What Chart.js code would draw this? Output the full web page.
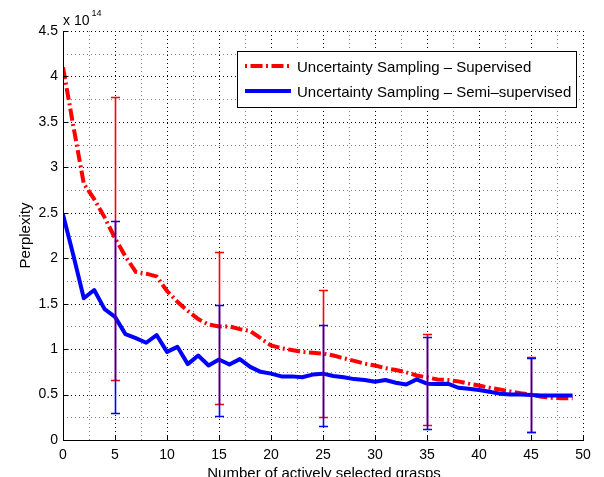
<!DOCTYPE html>
<html><head><meta charset="utf-8">
<script src="https://cdn.jsdelivr.net/npm/chart.js@4"></script>
<style>html,body{margin:0;padding:0;background:#fff;}canvas{display:block;}</style>
</head><body>
<canvas id="c" width="604" height="477"></canvas>
<script>
// ---- data (perplexity in units of 1e14) ----
const grasps = [0,1,2,3,4,5,6,7,8,9,10,11,12,13,14,15,16,17,18,19,20,21,22,23,24,25,26,27,28,29,30,31,32,33,34,35,36,37,38,39,40,41,42,43,44,45,46,47,48,49];
const supervised = [4.10,3.45,2.82,2.65,2.45,2.22,2.02,1.85,1.83,1.80,1.64,1.52,1.42,1.33,1.27,1.25,1.25,1.22,1.20,1.12,1.04,1.01,0.99,0.97,0.96,0.95,0.93,0.90,0.87,0.84,0.82,0.79,0.77,0.745,0.71,0.69,0.665,0.66,0.645,0.62,0.60,0.575,0.555,0.535,0.515,0.50,0.475,0.465,0.46,0.46];
const semiSupervised = [2.48,2.03,1.56,1.65,1.44,1.355,1.165,1.12,1.07,1.155,0.97,1.025,0.835,0.93,0.82,0.885,0.83,0.89,0.805,0.75,0.73,0.70,0.70,0.69,0.72,0.73,0.705,0.69,0.67,0.66,0.64,0.66,0.63,0.61,0.667,0.62,0.615,0.62,0.575,0.565,0.55,0.53,0.51,0.50,0.50,0.495,0.49,0.49,0.49,0.49];
const errGrasps = [5,15,25,35,45];
const supHigh = [3.77,2.07,1.65,1.17,0.91];
const supLow = [0.66,0.40,0.25,0.17,0.09];
const semiHigh = [2.41,1.49,1.27,1.13,0.90];
const semiLow = [0.30,0.267,0.157,0.12,0.085];
const xTicks = [0,5,10,15,20,25,30,35,40,45,50];
const xTickLabels = ['0','5','10','15','20','25','30','35','40','45','50'];
const yTicks = [0,0.5,1,1.5,2,2.5,3,3.5,4,4.5];
const yTickLabels = ['0','0.5','1','1.5','2','2.5','3','3.5','4','4.5'];
const exponent = '14';
const seriesNames = ['Uncertainty Sampling \u2013 Supervised','Uncertainty Sampling \u2013 Semi\u2013supervised'];
const xTitle = 'Number of actively selected grasps';
const yTitle = 'Perplexity';

const FONT = '"Liberation Sans", Arial, Helvetica, sans-serif';
const RED = '#ff0000', BLUE = '#0000ff';
const DASHDOT = [12,3.5,2,3.5];
Chart.defaults.font.family = FONT;

const crisp = v => Math.round(v) + 0.5;

const matlabPlugin = {
  id: 'matlab',
  beforeDatasetsDraw(chart) {
    const {ctx, chartArea: a, scales: {x, y}} = chart;
    ctx.save();
    ctx.lineWidth = 1;
    // minor grid
    ctx.strokeStyle = '#808080';
    ctx.setLineDash([1,3]);
    for (let i = 0; i < xTicks.length - 1; i++) {
      const px = crisp(x.getPixelForValue((xTicks[i] + xTicks[i+1]) / 2));
      ctx.beginPath(); ctx.moveTo(px, a.bottom); ctx.lineTo(px, a.top); ctx.stroke();
    }
    for (let i = 0; i < yTicks.length - 1; i++) {
      const py = crisp(y.getPixelForValue((yTicks[i] + yTicks[i+1]) / 2));
      ctx.beginPath(); ctx.moveTo(a.left, py); ctx.lineTo(a.right, py); ctx.stroke();
    }
    // major grid
    ctx.strokeStyle = '#000';
    xTicks.forEach(v => {
      const px = crisp(x.getPixelForValue(v));
      ctx.beginPath(); ctx.moveTo(px, a.bottom); ctx.lineTo(px, a.top); ctx.stroke();
    });
    yTicks.forEach(v => {
      const py = crisp(y.getPixelForValue(v));
      ctx.beginPath(); ctx.moveTo(a.left, py); ctx.lineTo(a.right, py); ctx.stroke();
    });
    ctx.restore();
  },
  afterDatasetsDraw(chart) {
    const {ctx, chartArea: a, scales: {x, y}} = chart;
    ctx.save();
    ctx.setLineDash([]);
    const bar = (xv, lo, hi, color) => {
      const px = Math.round(x.getPixelForValue(xv)) + 0.5;
      const pl = crisp(y.getPixelForValue(lo));
      const ph = crisp(y.getPixelForValue(hi));
      ctx.strokeStyle = color;
      ctx.lineWidth = 1.6;
      ctx.beginPath();
      ctx.moveTo(px, pl); ctx.lineTo(px, ph);
      ctx.stroke();
      ctx.lineWidth = 1.3;
      ctx.beginPath();
      ctx.moveTo(px - 4.5, pl); ctx.lineTo(px + 4.5, pl);
      ctx.moveTo(px - 4.5, ph); ctx.lineTo(px + 4.5, ph);
      ctx.stroke();
    };
    errGrasps.forEach((g, i) => bar(g, supLow[i], supHigh[i], RED));
    errGrasps.forEach((g, i) => bar(g, semiLow[i], semiHigh[i], BLUE));
    // axes
    ctx.lineWidth = 1;
    ctx.strokeStyle = '#000';
    const L = crisp(a.left), B = crisp(a.bottom);
    ctx.beginPath();
    ctx.moveTo(L, a.top); ctx.lineTo(L, B); ctx.lineTo(a.right + 1, B);
    ctx.stroke();
    // inward ticks
    ctx.beginPath();
    xTicks.forEach(v => { const px = crisp(x.getPixelForValue(v)); ctx.moveTo(px, B); ctx.lineTo(px, B - 5); });
    yTicks.forEach(v => { const py = crisp(y.getPixelForValue(v)); ctx.moveTo(L, py); ctx.lineTo(L + 5, py); });
    ctx.stroke();
    ctx.restore();
  },
  afterDraw(chart) {
    const {ctx, chartArea: a} = chart;
    ctx.save();
    ctx.fillStyle = '#000';
    // exponent
    ctx.textAlign = 'left'; ctx.textBaseline = 'alphabetic';
    ctx.font = '14px ' + FONT;
    ctx.fillText('x 10', a.left, 25);
    const w = ctx.measureText('x 10').width;
    ctx.font = '9px ' + FONT;
    ctx.fillText(exponent, a.left + w + 2, 15.5);
    // x title
    ctx.font = '15px ' + FONT;
    ctx.textAlign = 'center';
    ctx.fillText(xTitle, (a.left + a.right) / 2 + 1, 477.5);
    // y title
    ctx.save();
    ctx.translate(29.5, (a.top + a.bottom) / 2);
    ctx.rotate(-Math.PI / 2);
    ctx.fillText(yTitle, 0, 0);
    ctx.restore();
    // legend
    const bx = 237.5, by = 51.5, bw = 339, bh = 56;
    ctx.fillStyle = '#fff';
    ctx.fillRect(bx, by, bw, bh);
    ctx.strokeStyle = '#000'; ctx.lineWidth = 1;
    ctx.strokeRect(bx, by, bw, bh);
    const rows = [
      {y: 66, color: RED, dash: DASHDOT, offset: 15.5},
      {y: 91, color: BLUE, dash: [], offset: 0}
    ];
    rows.forEach((r, i) => {
      ctx.save();
      ctx.strokeStyle = r.color; ctx.lineWidth = 4; ctx.lineCap = 'butt';
      ctx.setLineDash(r.dash); ctx.lineDashOffset = r.offset;
      ctx.beginPath(); ctx.moveTo(245, r.y); ctx.lineTo(291, r.y); ctx.stroke();
      ctx.restore();
      ctx.fillStyle = '#000';
      ctx.font = '15px ' + FONT;
      ctx.textAlign = 'left'; ctx.textBaseline = 'alphabetic';
      ctx.fillText(seriesNames[i], 297, r.y + 6.3);
    });
    ctx.restore();
  }
};

const tickFont = {family: FONT, size: 14};
new Chart(document.getElementById('c').getContext('2d'), {
  type: 'line',
  data: {
    datasets: [
      {label: seriesNames[0], data: grasps.map((g, i) => ({x: g, y: supervised[i]})),
       borderColor: RED, borderWidth: 4, borderDash: DASHDOT, borderCapStyle: 'butt',
       pointRadius: 0, tension: 0, fill: false, order: 2},
      {label: seriesNames[1], data: grasps.map((g, i) => ({x: g, y: semiSupervised[i]})),
       borderColor: BLUE, borderWidth: 4, borderJoinStyle: 'round',
       pointRadius: 0, tension: 0, fill: false, order: 1}
    ]
  },
  options: {
    responsive: false, animation: false, devicePixelRatio: 1, events: [],
    layout: {padding: {left: 0, right: 21, top: 31, bottom: 0}},
    plugins: {legend: {display: false}, tooltip: {enabled: false}, title: {display: false}},
    scales: {
      x: {
        type: 'linear', min: 0, max: 50,
        afterFit(s) { s.height = 37; },
        afterBuildTicks(s) { s.ticks = xTicks.map(v => ({value: v})); },
        ticks: {padding: 7, color: '#000', font: tickFont, maxRotation: 0, autoSkip: false,
                callback: v => xTickLabels[xTicks.indexOf(v)]},
        grid: {display: false, drawTicks: false},
        border: {display: false}
      },
      y: {
        type: 'linear', min: 0, max: 4.5,
        afterFit(s) { s.width = 63; },
        afterBuildTicks(s) { s.ticks = yTicks.map(v => ({value: v})); },
        ticks: {padding: 5, color: '#000', font: tickFont, autoSkip: false,
                callback: v => yTickLabels[yTicks.indexOf(v)]},
        grid: {display: false, drawTicks: false},
        border: {display: false}
      }
    }
  },
  plugins: [matlabPlugin]
});
</script>
</body></html>
